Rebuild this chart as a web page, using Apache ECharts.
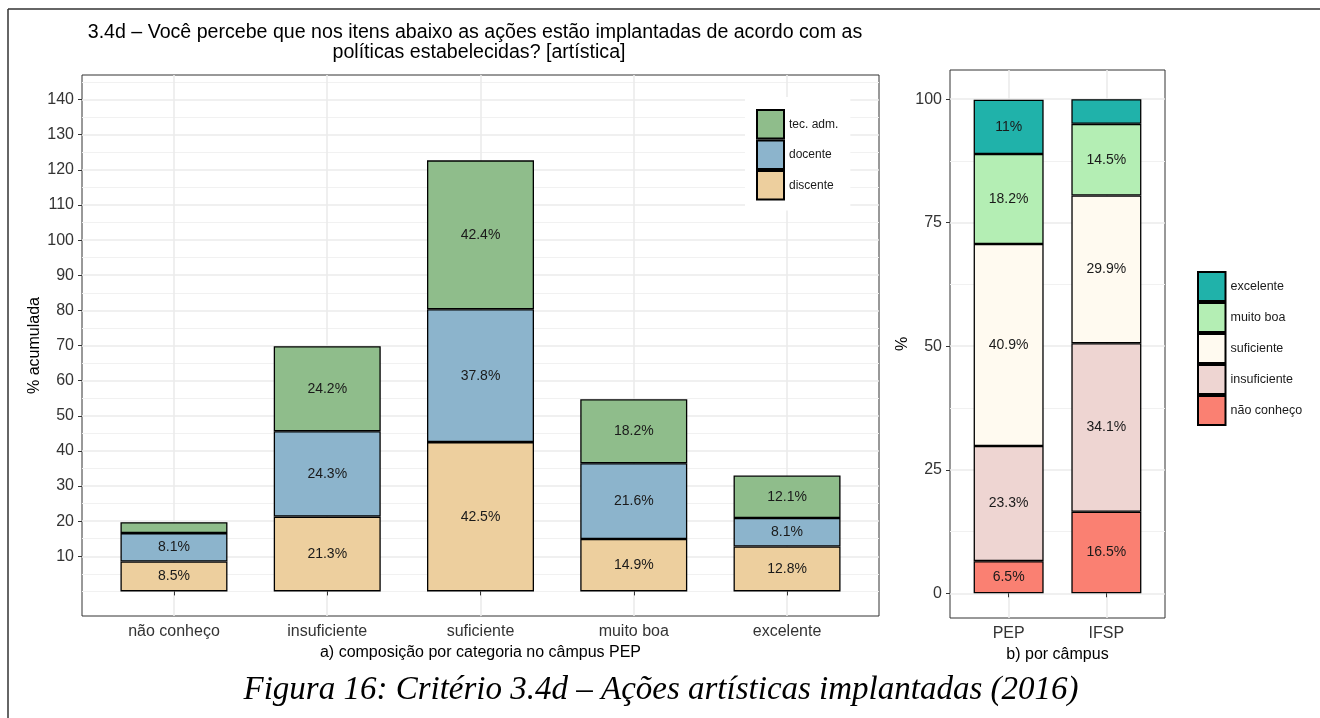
<!DOCTYPE html>
<html>
<head>
<meta charset="utf-8">
<script src="https://cdn.jsdelivr.net/npm/echarts@6/dist/echarts.min.js"></script>
<style>
  html, body { margin: 0; padding: 0; background: #fff; }
  #chart { width: 1320px; height: 718px; }
</style>
</head>
<body>
<div id="chart"></div>
<script>
const FONT = 'Liberation Sans, Arial, sans-serif'

// a) composição por categoria no câmpus PEP
const categorias = ['não conheço', 'insuficiente', 'suficiente', 'muito boa', 'excelente']
const discente = [8.5, 21.3, 42.5, 14.9, 12.8]
const docente = [8.1, 24.3, 37.8, 21.6, 8.1]
const tecAdm = [3.1, 24.2, 42.4, 18.2, 12.1]
const yTicksA = [10, 20, 30, 40, 50, 60, 70, 80, 90, 100, 110, 120, 130, 140]
const yMinorA = [0, 5, 15, 25, 35, 45, 55, 65, 75, 85, 95, 105, 115, 125, 135, 145]

// b) por câmpus
const campus = ['PEP', 'IFSP']
const naoConheco = [6.5, 16.5]
const insuficiente = [23.3, 34.1]
const suficiente = [40.9, 29.9]
const muitoBoa = [18.2, 14.5]
const excelente = [11, 5]
const yTicksB = [0, 25, 50, 75, 100]
const yMinorB = [12.5, 37.5, 62.5, 87.5]

const catPosA = categorias.map((c, i) => i + 1)
const catPosB = campus.map((c, i) => i + 1)

// valor na 1a coluna para o empilhamento cair no eixo y
const labelStyle = {
  show: true,
  position: 'inside',
  fontFamily: FONT,
  fontSize: 14,
  color: '#1a1a1a',
  formatter: (p) => (p.value[0] > 5 ? p.value[0] + '%' : ''),
}

const bar = (name, values, color, idx, width) => ({
  name,
  type: 'bar',
  xAxisIndex: idx,
  yAxisIndex: idx,
  stack: 'g' + idx,
  barWidth: width,
  encode: { x: 1, y: 0 },
  data: values.map((v, i) => [v, i + 1]),
  itemStyle: { color, borderColor: '#000', borderWidth: 1.3 },
  label: labelStyle,
  emphasis: { disabled: true },
})

const axisText = { fontFamily: FONT, fontSize: 16, color: '#333' }
const nameText = { fontFamily: FONT, fontSize: 16, color: '#000' }
const majorLine = { show: true, lineStyle: { color: '#ebebeb', width: 1.6 } }
const minorLine = { show: true, lineStyle: { color: '#f1f1f1', width: 1 } }
const tick = (vals) => ({ show: true, length: 4, customValues: vals, lineStyle: { color: '#333', width: 1 } })

const chart = echarts.init(document.getElementById('chart'))

chart.setOption({
  animation: false,
  backgroundColor: '#fff',
  textStyle: { fontFamily: FONT },
  grid: [
    { left: 82, top: 75, width: 797, height: 541, show: true, borderColor: '#333', borderWidth: 1, backgroundColor: '#fff' },
    { left: 950, top: 70, width: 215, height: 548, show: true, borderColor: '#333', borderWidth: 1, backgroundColor: '#fff' },
  ],
  xAxis: [
    {
      type: 'value', gridIndex: 0, min: 0.4, max: 5.6,
      axisLine: { show: false },
      axisTick: tick(catPosA),
      axisLabel: { ...axisText, customValues: catPosA, margin: 8, formatter: (v) => categorias[Math.round(v) - 1] },
      splitLine: majorLine,
      name: 'a) composição por categoria no câmpus PEP',
      nameLocation: 'middle', nameGap: 27, nameTextStyle: nameText,
    },
    {
      type: 'value', gridIndex: 1, min: 0.4, max: 2.6,
      axisLine: { show: false },
      axisTick: tick(catPosB),
      axisLabel: { ...axisText, customValues: catPosB, margin: 8, formatter: (v) => campus[Math.round(v) - 1] },
      splitLine: majorLine,
      name: 'b) por câmpus',
      nameLocation: 'middle', nameGap: 27, nameTextStyle: nameText,
    },
  ],
  yAxis: [
    {
      type: 'value', gridIndex: 0, min: -7, max: 147,
      axisLine: { show: false },
      axisTick: tick(yTicksA),
      axisLabel: { ...axisText, customValues: yTicksA, margin: 8 },
      splitLine: majorLine,
      name: '% acumulada', nameLocation: 'middle', nameGap: 39, nameMoveOverlap: false, nameTextStyle: nameText,
    },
    {
      type: 'value', gridIndex: 1, min: -5, max: 105.9,
      axisLine: { show: false },
      axisTick: tick(yTicksB),
      axisLabel: { ...axisText, customValues: yTicksB, margin: 8 },
      splitLine: majorLine,
      name: '%', nameLocation: 'middle', nameGap: 39, nameMoveOverlap: false, nameTextStyle: nameText,
    },
    {
      type: 'value', gridIndex: 0, min: -7, max: 147, position: 'right',
      axisLine: { show: false },
      axisTick: { show: false, customValues: yMinorA },
      axisLabel: { show: false, customValues: yMinorA },
      splitLine: minorLine,
    },
    {
      type: 'value', gridIndex: 1, min: -5, max: 105.9, position: 'right',
      axisLine: { show: false },
      axisTick: { show: false, customValues: yMinorB },
      axisLabel: { show: false, customValues: yMinorB },
      splitLine: minorLine,
    },
  ],
  legend: [
    {
      orient: 'vertical', left: 745, top: 97, padding: [12, 12, 10, 11],
      backgroundColor: '#fff',
      itemWidth: 27, itemHeight: 28.5, itemGap: 0,
      icon: 'rect',
      itemStyle: { borderColor: '#000', borderWidth: 2 },
      textStyle: { fontFamily: FONT, fontSize: 12, color: '#1a1a1a' },
      selectedMode: false,
      data: ['tec. adm.', 'docente', 'discente'],
    },
    {
      orient: 'vertical', left: 1197, top: 271, padding: 0,
      itemWidth: 27.5, itemHeight: 29, itemGap: 0,
      icon: 'rect',
      itemStyle: { borderColor: '#000', borderWidth: 2 },
      textStyle: { fontFamily: FONT, fontSize: 12.5, color: '#1a1a1a' },
      selectedMode: false,
      data: ['excelente', 'muito boa', 'suficiente', 'insuficiente', 'não conheço'],
    },
  ],
  series: [
    bar('discente', discente, '#edcf9e', 0, 107),
    bar('docente', docente, '#8cb4cc', 0, 107),
    bar('tec. adm.', tecAdm, '#8fbd8b', 0, 107),
    bar('não conheço', naoConheco, '#fa8072', 1, 70),
    bar('insuficiente', insuficiente, '#eed5d2', 1, 70),
    bar('suficiente', suficiente, '#fffaf0', 1, 70),
    bar('muito boa', muitoBoa, '#b4eeb4', 1, 70),
    bar('excelente', excelente, '#20b2aa', 1, 70),
  ],
  graphic: [
    { type: 'line', shape: { x1: 8, y1: 9, x2: 1320, y2: 9 }, style: { stroke: '#333', lineWidth: 1.5 } },
    { type: 'line', shape: { x1: 8, y1: 9, x2: 8, y2: 718 }, style: { stroke: '#333', lineWidth: 1.5 } },
    {
      type: 'text', x: 475, y: 33,
      style: { text: '3.4d – Você percebe que nos itens abaixo as ações estão implantadas de acordo com as', font: '19.6px ' + FONT, fill: '#000', textAlign: 'center', textVerticalAlign: 'middle' },
    },
    {
      type: 'text', x: 479, y: 53,
      style: { text: 'políticas estabelecidas? [artística]', font: '19.6px ' + FONT, fill: '#000', textAlign: 'center', textVerticalAlign: 'middle' },
    },
    {
      type: 'text', x: 661, y: 690,
      style: { text: 'Figura 16: Critério 3.4d – Ações artísticas implantadas (2016)', font: 'italic 33px Liberation Serif, Times New Roman, serif', fill: '#000', textAlign: 'center', textVerticalAlign: 'middle' },
    },
  ],
})
</script>
</body>
</html>
